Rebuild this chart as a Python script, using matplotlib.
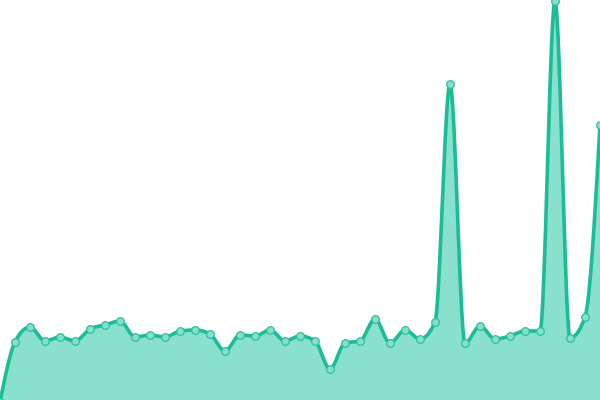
import numpy as np
import matplotlib
matplotlib.use("Agg")
import matplotlib.pyplot as plt

# Data (index 0..40)
x_idx = list(range(41))
values = [-2, 58, 73, 59, 63, 59, 71, 75, 79, 63, 65, 63, 69, 70, 66, 49,
          65, 64, 70, 59, 64, 59, 31, 57, 59, 81, 57, 70, 61, 78, 316,
          57, 74, 61, 64, 69, 69, 399, 62, 83, 275]

LINE = "#1bbc98"
FILL = "#88e0cd"
MFACE = "#86dfca"
MEDGE = "#2dbf9c"


def monotone_x(x, y, n=30):
    x = np.asarray(x, float)
    y = np.asarray(y, float)
    h = np.diff(x)
    s = np.diff(y) / h
    m = np.zeros_like(y)
    for i in range(1, len(y) - 1):
        h0, h1 = h[i - 1], h[i]
        s0, s1 = s[i - 1], s[i]
        p = (s0 * h1 + s1 * h0) / (h0 + h1)
        m[i] = (np.sign(s0) + np.sign(s1)) * min(abs(s0), abs(s1), 0.5 * abs(p))
    m[0] = (3 * s[0] - m[1]) / 2
    m[-1] = (3 * s[-1] - m[-2]) / 2
    xs, ys = [], []
    for i in range(len(x) - 1):
        t = np.linspace(0, 1, n, endpoint=(i == len(x) - 2))
        hh = h[i]
        h00 = 2 * t**3 - 3 * t**2 + 1
        h10 = t**3 - 2 * t**2 + t
        h01 = -2 * t**3 + 3 * t**2
        h11 = t**3 - t**2
        xs.append(x[i] + t * hh)
        ys.append(h00 * y[i] + h10 * hh * m[i] + h01 * y[i + 1] + h11 * hh * m[i + 1])
    return np.concatenate(xs), np.concatenate(ys)


fig = plt.figure(figsize=(6, 4), dpi=100)
ax = fig.add_axes([0, 0, 1, 1])
cx, cy = monotone_x(x_idx, values)
ax.fill_between(cx, cy, -10, color=FILL, linewidth=0)
ax.plot(cx, cy, color=LINE, linewidth=2.6, solid_joinstyle="round")
ax.plot(x_idx, values, linestyle="none", marker="o", markersize=5.5,
        markerfacecolor=MFACE, markeredgecolor=MEDGE, markeredgewidth=0.9)
ax.set_xlim(x_idx[0], x_idx[-1])
ax.set_ylim(0, 400)
ax.axis("off")
fig.savefig("out.png", dpi=100)
